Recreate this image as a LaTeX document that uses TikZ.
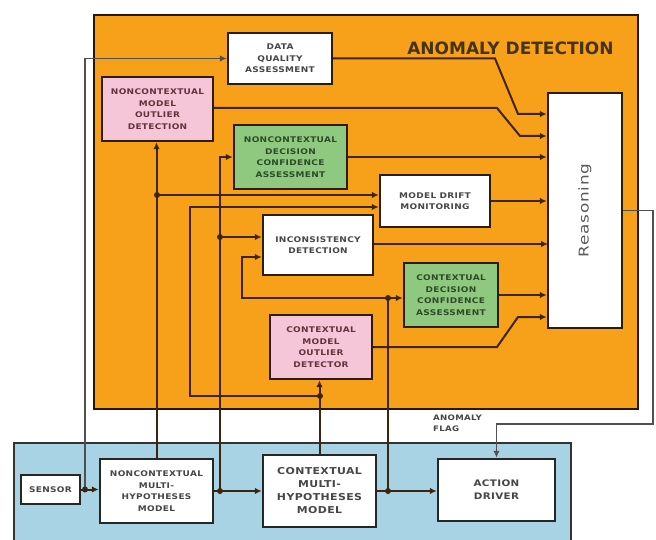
\documentclass[tikz,border=0pt]{standalone}
\usepackage{fontspec}
\setmainfont{DejaVu Sans}
\newfontfamily\boxfont[FakeStretch=1.15,LetterSpace=4]{DejaVu Sans}
\newfontfamily\reasfont[FakeStretch=1.25,LetterSpace=6]{DejaVu Sans}
\usetikzlibrary{arrows.meta}
\definecolor{orangebg}{RGB}{247,161,27}
\definecolor{bluebg}{RGB}{168,211,228}
\definecolor{pinkbg}{RGB}{245,198,216}
\definecolor{greenbg}{RGB}{143,201,128}
\definecolor{linecol}{RGB}{62,36,10}
\definecolor{greyline}{RGB}{80,80,80}
\definecolor{boxline}{RGB}{45,28,10}
\definecolor{boxtext}{RGB}{70,70,70}
\definecolor{pinktext}{RGB}{100,50,60}
\definecolor{greentext}{RGB}{45,75,40}
\definecolor{titlecol}{RGB}{70,50,20}
\begin{document}
\begin{tikzpicture}[x=1pt,y=-1pt,
  box/.style={draw=boxline, line width=2.4pt, align=center, inner sep=0pt,
    font=\boxfont\bfseries\fontsize{7.8}{11.5}\selectfont, text=boxtext, fill=white},
  pinkbox/.style={box, fill=pinkbg, text=pinktext},
  greenbox/.style={box, fill=greenbg, text=greentext},
  bluebox/.style={box, draw=black!85},
  wire/.style={draw=linecol, line width=2pt},
  greywire/.style={draw=greyline, line width=1.6pt},
  arr/.style={-{Latex[length=7pt,width=6.5pt]}},
  jdot/.style={fill=linecol}]
\useasboundingbox (0,0) rectangle (656,540);
\fill[white] (0,0) rectangle (656,540);
% panels
\filldraw[fill=orangebg, draw=black!85!orangebg, line width=2.8pt] (94,15) rectangle (638,409);
\filldraw[fill=bluebg, draw=black!80, line width=2.4pt] (14,443) rectangle (571,548);
\node[font=\bfseries\fontsize{17}{17}\selectfont, text=titlecol, anchor=center] (title) at (510.5,48.5) {ANOMALY DETECTION};
\node[font=\boxfont\bfseries\fontsize{7.5}{11}\selectfont, text=boxtext, align=left, anchor=north west, inner sep=0pt] (flag) at (433,415) {ANOMALY\\FLAG};

% nodes
\node[box, minimum width=104pt, minimum height=51pt] (DQA) at (280,58.5) {DATA\\QUALITY\\ASSESSMENT};
\node[pinkbox, minimum width=111pt, minimum height=64pt] (NMOD) at (157.5,109) {NONCONTEXTUAL\\MODEL\\OUTLIER\\DETECTION};
\node[greenbox, minimum width=113pt, minimum height=64pt] (NDCA) at (290.5,157) {NONCONTEXTUAL\\DECISION\\CONFIDENCE\\ASSESSMENT};
\node[box, minimum width=110pt, minimum height=52pt] (MDM) at (435,201) {MODEL DRIFT\\MONITORING};
\node[box, minimum width=110pt, minimum height=60pt] (INC) at (318,245) {INCONSISTENCY\\DETECTION};
\node[greenbox, minimum width=94pt, minimum height=64pt] (CDCA) at (451,295) {CONTEXTUAL\\DECISION\\CONFIDENCE\\ASSESSMENT};
\node[pinkbox, minimum width=102pt, minimum height=64pt] (CMOD) at (321,347) {CONTEXTUAL\\MODEL\\OUTLIER\\DETECTOR};
\node[box, minimum width=74pt, minimum height=235pt, font=\reasfont\fontsize{13.5}{13.5}\selectfont, text=black!65] (REAS) at (585,210.5) {\rotatebox{90}{Reasoning}};
\node[bluebox, minimum width=59pt, minimum height=29pt] (SENSOR) at (50.5,489.5) {SENSOR};
\node[bluebox, minimum width=113pt, minimum height=64pt] (NMH) at (156.5,491) {NONCONTEXTUAL\\MULTI-\\HYPOTHESES\\MODEL};
\node[bluebox, minimum width=113pt, minimum height=72pt, font=\boxfont\bfseries\fontsize{9.5}{13}\selectfont] (CMH) at (319.5,491) {CONTEXTUAL\\MULTI-\\HYPOTHESES\\MODEL};
\node[bluebox, minimum width=117pt, minimum height=62pt, font=\boxfont\bfseries\fontsize{9}{13}\selectfont] (AD) at (496.5,490) {ACTION\\DRIVER};

% junctions and bends
\coordinate (j1) at (85,489.5);
\coordinate (j2) at (157,195);
\coordinate (j3) at (220,491);
\coordinate (j4) at (220,237);
\coordinate (j5) at (320,396);
\coordinate (j6) at (388,491);
\coordinate (j7) at (388,298);
\coordinate (c1) at (190,396);
\coordinate (c2) at (190,207);
\coordinate (c3) at (242,298);
\coordinate (c4) at (242,257);
\coordinate (d1) at (495,58.5);
\coordinate (d2) at (518,114);
\coordinate (e1) at (497,108);
\coordinate (e2) at (520,136);
\coordinate (f1) at (497,347);
\coordinate (f2) at (518,317);
\coordinate (g1) at (653,210.5);
\coordinate (g2) at (653,424);
\coordinate (g3) at (496.5,424);
\coordinate (h1) at (373,244);
\coordinate (h2) at (548,244);

% grey wires outside the orange panel
\draw[greywire, arr] (j1) |- (DQA.west);
\draw[greywire, arr] (REAS.east) -- (g1) -- (g2) -- (g3) -- (AD.north);
% lower wires
\draw[wire, arr] (SENSOR.east) -- (SENSOR.east -| NMH.west);
\draw[wire, arr] (NMH.east) -- (NMH.east -| CMH.west);
\draw[wire, arr] (CMH.east) -- (CMH.east -| AD.west);
\draw[wire, arr] (NMH.north) -- (NMH.north |- NMOD.south);
\draw[wire, arr] (j2) -- (j2 -| MDM.west);
\draw[wire, arr] (j3) |- (NDCA.west);
\draw[wire, arr] (j4) -- (j4 -| INC.west);
\draw[wire, arr] (CMH.north) -- (CMH.north |- CMOD.south);
\draw[wire, arr] (j5) -- (c1) -- (c2) -- (c2 -| MDM.west);
\draw[wire] (j6) -- (j7);
\draw[wire, arr] (j7) -- (j7 -| CDCA.west);
\draw[wire, arr] (j7) -- (c3) -- (c4) -- (c4 -| INC.west);
% inputs of Reasoning
\draw[wire, arr] (DQA.east) -- (d1) -- (d2) -- (d2 -| REAS.west);
\draw[wire, arr] (NMOD.east |- e1) -- (e1) -- (e2) -- (e2 -| REAS.west);
\draw[wire, arr] (NDCA.east) -- (NDCA.east -| REAS.west);
\draw[wire, arr] (MDM.east) -- (MDM.east -| REAS.west);
\draw[wire, arr] (INC.east |- h1) -- (h2);
\draw[wire, arr] (CDCA.east) -- (CDCA.east -| REAS.west);
\draw[wire, arr] (CMOD.east) -- (f1) -- (f2) -- (f2 -| REAS.west);

\foreach \j in {j1,j2,j3,j4,j5,j6,j7} \fill[jdot] (\j) circle (3pt);
\end{tikzpicture}
\end{document}
